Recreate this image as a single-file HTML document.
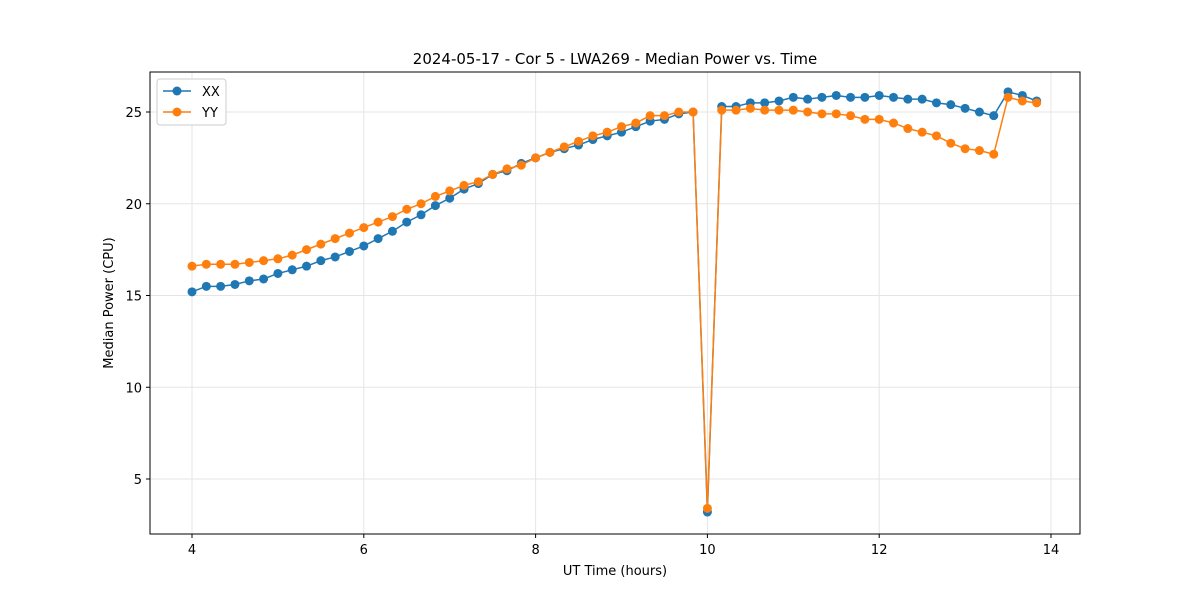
<!DOCTYPE html>
<html><head><meta charset="utf-8"><style>
body{margin:0;background:#fff;font-family:"DejaVu Sans","Liberation Sans",sans-serif;}
svg text{font-family:"DejaVu Sans","Liberation Sans",sans-serif;}
</style></head><body>
<svg id="chart" width="1200" height="600" xmlns="http://www.w3.org/2000/svg">
<rect width="1200" height="600" fill="#fff"/>
<text x="615" y="64" font-size="15" text-anchor="middle">2024-05-17 - Cor 5 - LWA269 - Median Power vs. Time</text>
<text x="615" y="575" font-size="13" text-anchor="middle">UT Time (hours)</text>
<text x="113" y="303" font-size="13" text-anchor="middle" transform="rotate(-90 113 303)">Median Power (CPU)</text>
<g id="grid"></g><g id="axes"></g><g id="series"></g>
<rect x="150" y="72" width="930" height="462" fill="none" stroke="#000" stroke-width="1"/>
<g>
<rect x="157" y="79" width="69" height="46" rx="3" fill="#fff" stroke="#ccc"/>
<g><line x1="163" y1="91" x2="191" y2="91" stroke="#1f77b4" stroke-width="1.5"/><circle cx="177" cy="91" r="4.5" fill="#1f77b4"/><text x="202" y="96" font-size="13">XX</text></g>
<g><line x1="163" y1="112" x2="191" y2="112" stroke="#ff7f0e" stroke-width="1.5"/><circle cx="177" cy="112" r="4.5" fill="#ff7f0e"/><text x="202" y="117" font-size="13">YY</text></g>
</g>
</svg>
<script>
const xx=[15.2,15.5,15.5,15.6,15.8,15.9,16.2,16.4,16.6,16.9,17.1,17.4,17.7,18.1,18.5,19.0,19.4,19.9,20.3,20.8,21.1,21.6,21.8,22.2,22.5,22.8,23.0,23.2,23.5,23.7,23.9,24.2,24.5,24.6,24.9,25.0,3.2,25.3,25.3,25.5,25.5,25.6,25.8,25.7,25.8,25.9,25.8,25.8,25.9,25.8,25.7,25.7,25.5,25.4,25.2,25.0,24.8,26.1,25.9,25.6];
const yy=[16.6,16.7,16.7,16.7,16.8,16.9,17.0,17.2,17.5,17.8,18.1,18.4,18.7,19.0,19.3,19.7,20.0,20.4,20.7,21.0,21.2,21.6,21.9,22.1,22.5,22.8,23.1,23.4,23.7,23.9,24.2,24.4,24.8,24.8,25.0,25.0,3.4,25.1,25.1,25.2,25.1,25.1,25.1,25.0,24.9,24.9,24.8,24.6,24.6,24.4,24.1,23.9,23.7,23.3,23.0,22.9,22.7,25.8,25.6,25.5];
const xTicks=[4,6,8,10,12,14];
const yTicks=[5,10,15,20,25];
const startHour=4, stepHour=1/6;
const NS="http://www.w3.org/2000/svg";
const X=v=>192+(v-4)*85.9;
const Y=v=>479-(v-5)*18.35;
function mk(tag,attrs,parent){const e=document.createElementNS(NS,tag);for(const k in attrs)e.setAttribute(k,attrs[k]);parent.appendChild(e);return e;}
const grid=document.getElementById('grid'),axes=document.getElementById('axes'),series=document.getElementById('series');
xTicks.forEach(t=>{
 const g=mk('line',{x1:X(t),x2:X(t),y1:72,y2:534,stroke:'#e5e5e5','stroke-width':1},grid);
 
 mk('line',{x1:X(t),x2:X(t),y1:534,y2:538,stroke:'#000'},axes);
 const tx=mk('text',{x:X(t),y:554,'font-size':13,'text-anchor':'middle'},axes);tx.textContent=t;
 
});
yTicks.forEach(t=>{
 const g=mk('line',{x1:150,x2:1080,y1:Y(t),y2:Y(t),stroke:'#e5e5e5','stroke-width':1},grid);
 
 mk('line',{x1:146,x2:150,y1:Y(t),y2:Y(t),stroke:'#000'},axes);
 const tx=mk('text',{x:142,y:Y(t)+5,'font-size':13,'text-anchor':'end'},axes);tx.textContent=t;
 
});
function draw(data,color,name){
 const pts=data.map((v,i)=>[X(startHour+i*stepHour),Y(v)]);
 const pl=mk('polyline',{points:pts.map(p=>p.join(',')).join(' '),fill:'none',stroke:color,'stroke-width':1.5},series);
 
 pts.forEach(p=>{const c=mk('circle',{cx:p[0],cy:p[1],r:4.5,fill:color},series);
  });
}
draw(xx,'#1f77b4','xx');
draw(yy,'#ff7f0e','yy');
</script>
</body></html>
